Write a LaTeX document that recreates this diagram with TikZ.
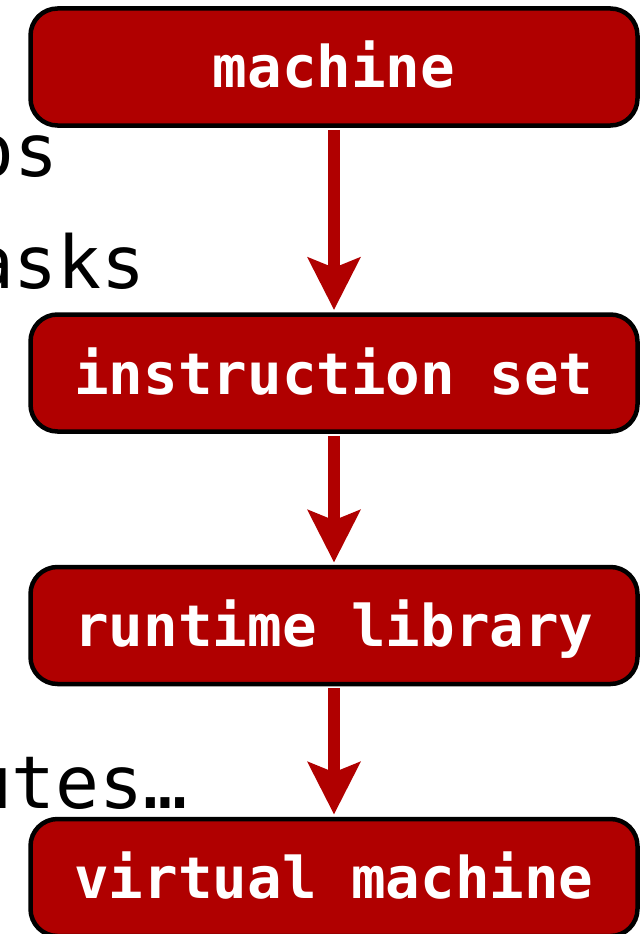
\documentclass[tikz,border=0pt]{standalone}
\usepackage{fontspec}
\setmonofont{DejaVu Sans Mono}
\usetikzlibrary{arrows.meta}
\definecolor{boxred}{HTML}{B00000}
\begin{document}
\begin{tikzpicture}[x=1pt,y=-1pt,
  stackbox/.style={draw=black, line width=4.5pt, fill=boxred, rounded corners=27pt,
    minimum width=607pt, minimum height=117pt, inner sep=0pt, text=white,
    font=\ttfamily\bfseries\fontsize{57.5}{57.5}\selectfont, text height=42pt, text depth=0pt},
  flow/.style={draw=boxred, line width=12pt,
    -{Stealth[length=53pt,width=54pt,inset=11pt,line width=0pt]},
    shorten >=2.5pt, shorten <=2pt},
  sidetext/.style={anchor=base east, inner sep=0pt,
    font=\ttfamily\fontsize{73}{73}\selectfont, text=black}]
\useasboundingbox (0,0) rectangle (641,934);
\clip (0,0) rectangle (641,934);
\node[sidetext] (t1) at (59,176) {os};
\node[sidetext] (t2) at (146,288) {asks};
\node[sidetext] (t3) at (188,808) {utes…};
\node[stackbox] (m) at (334,67) {machine};
\node[stackbox] (i) at (334,373) {instruction set};
\node[stackbox] (r) at (334,625.5) {runtime library};
\node[stackbox] (v) at (334,877.5) {virtual machine};
\draw[flow] (m.south) -- (i.north);
\draw[flow] (i.south) -- (r.north);
\draw[flow] (r.south) -- (v.north);
\end{tikzpicture}
\end{document}
